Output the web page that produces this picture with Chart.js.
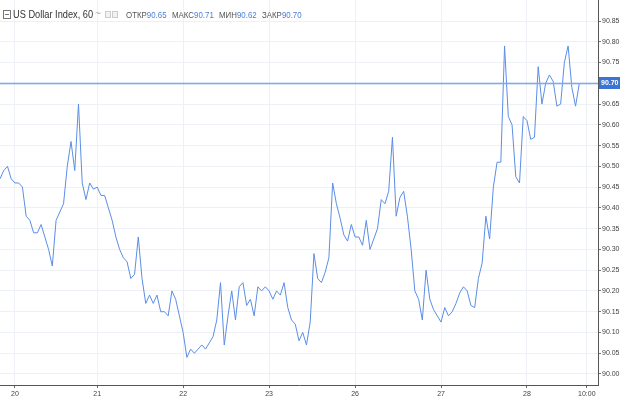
<!DOCTYPE html>
<html>
<head>
<meta charset="utf-8">
<script src="https://cdn.jsdelivr.net/npm/chart.js@4"></script>
<style>
  body { margin: 0; background: #fff; }
  #wrap { position: relative; width: 620px; height: 400px; }
  #hdr { position: absolute; left: 0; top: 0; height: 30px; width: 400px; font-family: 'Liberation Sans', sans-serif; }
  #hdr span { position: absolute; white-space: nowrap; transform-origin: 0 50%; }
  .ico { left: 3px; top: 10px; width: 6px; height: 7px; border: 1px solid #777; }
  .ico:after { content: ''; position: absolute; left: 1px; top: 3px; width: 4px; height: 1px; background: #777; }
  .ttl { left: 13px; top: 8px; font-size: 11px; color: #333; transform: scaleX(0.84); }
  .wave { left: 95px; top: 8px; font-size: 10px; color: #aaa; }
  .box { top: 11px; width: 4px; height: 5px; border: 1px solid #ccc; background: #f2f2f2; }
  .lbl { top: 9px; font-size: 9.5px; color: #555; transform: scaleX(0.83); }
  .val { color: #4a7fd8; }
</style>
</head>
<body>
<div id="wrap">
  <canvas id="chart" width="620" height="400"></canvas>
  <div id="hdr"></div>
</div>
<script>
// hourly closes, US Dollar Index, 60 min
const values = [
  90.47, 90.49, 90.50, 90.47, 90.46, 90.46, 90.45, 90.38, 90.37, 90.34,
  90.34, 90.36, 90.33, 90.30, 90.26, 90.37, 90.39, 90.41, 90.50, 90.56,
  90.49, 90.65, 90.46, 90.42, 90.46, 90.445, 90.45, 90.43, 90.43, 90.40,
  90.37, 90.33, 90.30, 90.28, 90.27, 90.23, 90.24, 90.33, 90.23, 90.17,
  90.19, 90.17, 90.19, 90.15, 90.15, 90.14, 90.20, 90.18, 90.14, 90.10,
  90.04, 90.06, 90.05, 90.06, 90.07, 90.06, 90.075, 90.09, 90.13, 90.22,
  90.07, 90.14, 90.20, 90.13, 90.21, 90.22, 90.165, 90.18, 90.14, 90.21,
  90.20, 90.21, 90.20, 90.18, 90.20, 90.19, 90.22, 90.16, 90.13, 90.12,
  90.08, 90.10, 90.07, 90.125, 90.29, 90.23, 90.22, 90.245, 90.28, 90.46,
  90.41, 90.375, 90.335, 90.32, 90.36, 90.33, 90.33, 90.31, 90.37, 90.30,
  90.325, 90.35, 90.42, 90.41, 90.44, 90.57, 90.38, 90.425, 90.44, 90.38,
  90.30, 90.20, 90.18, 90.13, 90.25, 90.18, 90.155, 90.14, 90.125, 90.16,
  90.14, 90.15, 90.17, 90.195, 90.21, 90.20, 90.165, 90.16, 90.23, 90.267,
  90.38, 90.325, 90.45, 90.51, 90.51, 90.79, 90.62, 90.60, 90.475, 90.46,
  90.62, 90.61, 90.565, 90.57, 90.74, 90.65, 90.70, 90.72, 90.705, 90.645,
  90.65, 90.75, 90.79, 90.69, 90.645, 90.70
];
const barCount = 161;   // slots on the time axis, incl. empty ones at the right
const dayLabels = ['20', '21', '22', '23', '26', '27', '28', '10:00'];
const dayIndex = [4, 26, 49, 72, 95, 118, 141, 157];
const priceTicks = [90.00, 90.05, 90.10, 90.15, 90.20, 90.25, 90.30, 90.35, 90.40,
  90.45, 90.50, 90.55, 90.60, 90.65, 90.70, 90.75, 90.80, 90.85];
const ohlcNames = ['ОТКР', 'МАКС', 'МИН', 'ЗАКР'];
const ohlcValues = [90.65, 90.71, 90.62, 90.70];
const lastPrice = values[values.length - 1];

const labels = [];
for (let i = 0; i < barCount; i++) {
  const k = dayIndex.indexOf(i);
  labels.push(k >= 0 ? dayLabels[k] : '');
}

// header
const hdr = document.getElementById('hdr');
hdr.innerHTML = '<span class="ico"></span><span class="ttl">US Dollar Index, 60</span>' +
  '<span class="wave">~</span><span class="box" style="left:105px"></span><span class="box" style="left:112px"></span>';
const pairLeft = [126, 172, 219, 262];
ohlcNames.forEach((n, i) => {
  hdr.innerHTML += '<span class="lbl" style="left:' + pairLeft[i] + 'px">' + n +
    '<span class="val" style="position:static">' + ohlcValues[i].toFixed(2) + '</span></span>';
});

const axisFont = { family: "'Liberation Sans', sans-serif", size: 7 };

// last price: horizontal line + blue tag on the price axis
const priceLine = {
  id: 'priceLine',
  afterDraw(chart) {
    const { ctx, chartArea, scales } = chart;
    const y = Math.round(scales.y.getPixelForValue(lastPrice));
    ctx.save();
    ctx.fillStyle = '#82a9ec';
    ctx.fillRect(chartArea.left, y - 0.3, chartArea.right - chartArea.left, 1.6);
    ctx.fillStyle = '#3b74d4';
    ctx.fillRect(chartArea.right + 1, y - 6, 22, 12);
    ctx.fillStyle = '#fff';
    ctx.font = "bold 7px 'Liberation Sans', sans-serif";
    ctx.textBaseline = 'middle';
    ctx.fillText(lastPrice.toFixed(2), chartArea.right + 3, y + 0.5);
    ctx.restore();
  }
};

const noPad = scale => {
  scale.paddingTop = 0;
  scale.paddingBottom = 0;
  scale.paddingLeft = 0;
  scale.paddingRight = 0;
};

new Chart(document.getElementById('chart'), {
  type: 'line',
  data: {
    labels: labels,
    datasets: [{
      data: values,
      borderColor: '#5b8ee6',
      borderWidth: 1,
      pointRadius: 0,
      tension: 0,
      fill: false
    }]
  },
  options: {
    responsive: false,
    animation: false,
    layout: { padding: 0 },
    plugins: {
      legend: { display: false },
      tooltip: { enabled: false }
    },
    scales: {
      x: {
        afterBuildTicks(scale) { scale.ticks = dayIndex.map(i => ({ value: i })); },
        afterFit(scale) { scale.height = 15; noPad(scale); },
        grid: { color: '#edf0f4', tickColor: '#666', tickLength: 3 },
        border: { display: true, color: '#555' },
        ticks: { autoSkip: false, maxRotation: 0, padding: 2, color: '#444', font: axisFont }
      },
      y: {
        position: 'right',
        min: 89.9735,
        max: 90.9006,
        afterBuildTicks(scale) { scale.ticks = priceTicks.map(v => ({ value: v })); },
        afterFit(scale) { scale.width = 22; noPad(scale); },
        grid: { color: '#edf0f4', tickColor: '#777', tickLength: 3 },
        border: { display: true, color: '#555' },
        ticks: { padding: 1, color: '#444', font: axisFont, callback: v => v.toFixed(2) }
      }
    }
  },
  plugins: [priceLine]
});
</script>
</body>
</html>
